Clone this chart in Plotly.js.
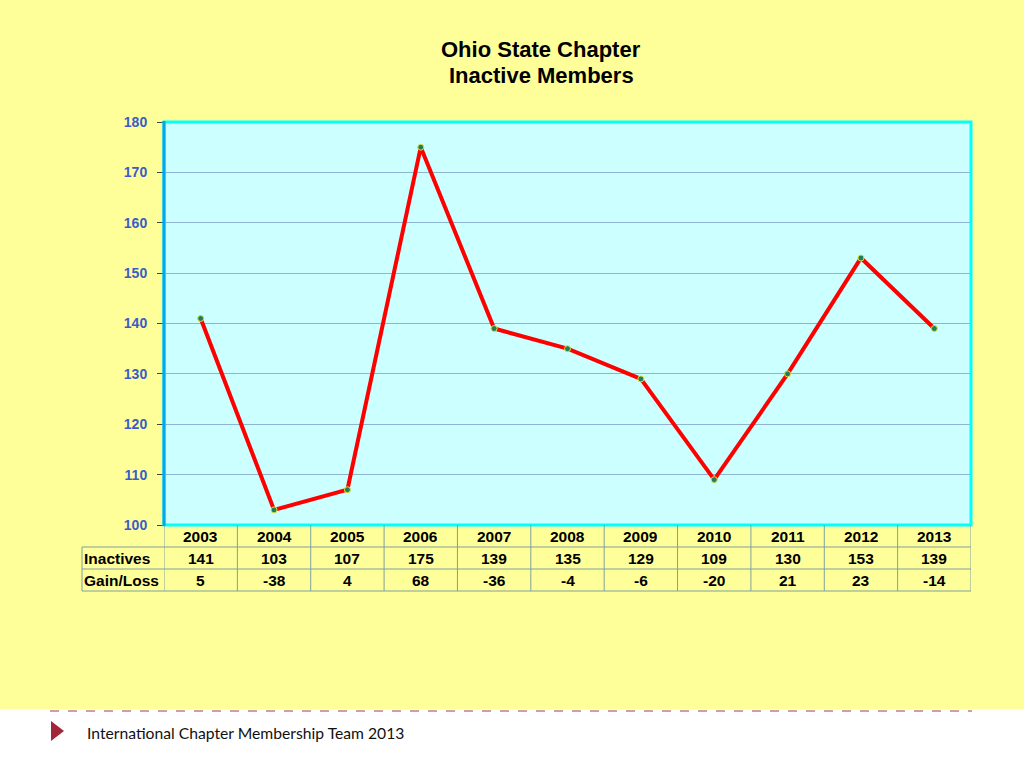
<!DOCTYPE html>
<html>
<head>
<meta charset="utf-8">
<script src="https://cdn.plot.ly/plotly-3.0.1.min.js"></script>
<style>
html,body{margin:0;padding:0;background:#ffff99;}
#chart{width:1024px;height:768px;}
</style>
</head>
<body>
<div id="chart"></div>
<script>
const years = ["2003","2004","2005","2006","2007","2008","2009","2010","2011","2012","2013"];
const inactives = [141,103,107,175,139,135,129,109,130,153,139];
const gainLoss = [5,-38,4,68,-36,-4,-6,-20,21,23,-14];
const rowLabels = ["Inactives","Gain/Loss"];
const titleLines = ["Ohio State Chapter","Inactive Members"];
const yTicks = [100,110,120,130,140,150,160,170,180];

const W = 1024, H = 768;
const px = x => x / W;
const py = y => 1 - y / H;

const plotL = 164, plotR = 971, plotT = 122, plotB = 525;
const rowY = [525, 547, 569, 591];
const tableL = 82;

const shapes = [];
const annotations = [];

// white footer band
shapes.push({type:'rect', xref:'paper', yref:'paper', x0:0, x1:1, y0:0, y1:py(709),
  fillcolor:'#ffffff', line:{width:0}, layer:'below'});
// dashed footer line
shapes.push({type:'line', xref:'paper', yref:'paper', x0:px(50), x1:px(972), y0:py(711), y1:py(711),
  line:{color:'#a83a52', width:1, dash:'dash'}});
// triangle marker
shapes.push({type:'path', xref:'paper', yref:'paper',
  path:`M ${px(51)} ${py(721)} L ${px(64)} ${py(731)} L ${px(51)} ${py(741)} Z`,
  fillcolor:'#a32638', line:{width:0}});

// plot border (cyan)
shapes.push({type:'rect', xref:'paper', yref:'paper', x0:px(plotL), x1:px(plotR), y0:py(plotB), y1:py(plotT),
  line:{color:'#00ffff', width:3}, layer:'above'});
// left axis line blue
shapes.push({type:'line', xref:'paper', yref:'paper', x0:px(plotL), x1:px(plotL), y0:py(plotB+1), y1:py(plotT-1),
  line:{color:'#00a6ee', width:3}, layer:'above'});

// table grid
const tcol = '#7f9f9f';
for (let r = 1; r <= 3; r++) {
  shapes.push({type:'line', xref:'paper', yref:'paper', x0:px(tableL), x1:px(plotR), y0:py(rowY[r]), y1:py(rowY[r]), line:{color:tcol,width:1}});
}
shapes.push({type:'line', xref:'paper', yref:'paper', x0:px(tableL), x1:px(tableL), y0:py(rowY[1]), y1:py(rowY[3]), line:{color:tcol,width:1}});
for (let i = 0; i <= years.length; i++) {
  shapes.push({type:'line', xref:'x', yref:'paper', x0:i-0.5, x1:i-0.5, y0:py(rowY[0]), y1:py(rowY[3]), line:{color:tcol,width:1}});
}

const tfont = {family:'Liberation Sans, Arial, sans-serif', size:15.5, color:'#000000'};
const rowVals = [years, inactives, gainLoss];
for (let r = 0; r < 3; r++) {
  const yc = (rowY[r] + rowY[r+1]) / 2 + 0.5;
  rowVals[r].forEach((v, i) => {
    annotations.push({xref:'x', yref:'paper', x:i, y:py(yc), text:'<b>'+v+'</b>', showarrow:false,
      xanchor:'center', yanchor:'middle', font:tfont});
  });
}
rowLabels.forEach((lab, k) => {
  const yc = (rowY[k+1] + rowY[k+2]) / 2 + 0.5;
  annotations.push({xref:'paper', yref:'paper', x:px(tableL), y:py(yc), text:'<b>'+lab+'</b>', showarrow:false,
    xanchor:'left', yanchor:'middle', font:tfont});
});

// title (two lines)
const titleY = [49, 75];
titleLines.forEach((t, k) => {
  annotations.push({xref:'paper', yref:'paper', x:px(541), y:py(titleY[k]), text:'<b>'+t+'</b>',
    showarrow:false, xanchor:'center', yanchor:'middle',
    font:{family:'Liberation Sans, Arial, sans-serif', size:22, color:'#000000'}});
});

// footer text
annotations.push({xref:'paper', yref:'paper', x:px(85), y:py(733), text:'International Chapter Membership Team 2013',
  showarrow:false, xanchor:'left', yanchor:'middle',
  font:{family:'Lato, sans-serif', size:15.7, color:'#111111'}});

const trace = {
  type:'scatter', mode:'lines+markers', x:years, y:inactives,
  line:{color:'#ff0000', width:4},
  marker:{color:'#1f7f5a', size:6, line:{color:'#e0e040', width:1}},
  hoverinfo:'skip', cliponaxis:false
};

const layout = {
  width:W, height:H,
  margin:{l:0, r:0, t:0, b:0},
  paper_bgcolor:'#ffff99',
  plot_bgcolor:'#ccffff',
  showlegend:false,
  xaxis:{type:'category', domain:[px(plotL), px(plotR)], range:[-0.5, years.length-0.5],
    showticklabels:false, showgrid:false, zeroline:false, showline:false, ticks:'', fixedrange:true},
  yaxis:{domain:[py(plotB), py(plotT)], range:[100,180], tickvals:yTicks, ticktext:yTicks.map(v=>'<b>'+v+'</b>'),
    showgrid:true, gridcolor:'#8fb3d3', gridwidth:1, zeroline:false,
    ticks:'outside', ticklen:6, tickcolor:'#444444', tickwidth:1, ticklabelstandoff:7,
    tickfont:{family:'Liberation Sans, Arial, sans-serif', size:14, color:'#3a5ccc'}, fixedrange:true},
  shapes:shapes,
  annotations:annotations
};

Plotly.newPlot('chart', [trace], layout, {displayModeBar:false, staticPlot:true});
</script>
</body>
</html>
